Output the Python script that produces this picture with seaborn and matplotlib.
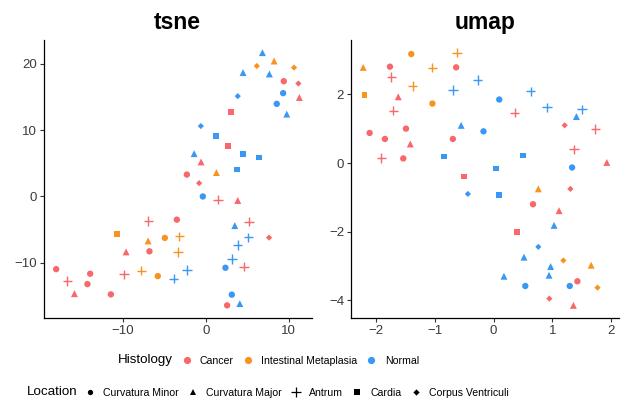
import matplotlib
matplotlib.use("Agg")
import matplotlib.pyplot as plt
from matplotlib.lines import Line2D
import numpy as np
import pandas as pd
import seaborn as sns

# ---- sample annotations -------------------------------------------------
histology_code = [
    "C", "C", "C", "C", "C", "C", "C", "C", "C",
    "C", "C", "C", "C", "C",
    "C", "C", "C", "C", "C", "C",
    "C", "C",
    "C", "C", "C",
    "IM", "IM",
    "IM", "IM", "IM",
    "IM", "IM", "IM",
    "IM",
    "IM", "IM",
    "N", "N", "N", "N", "N",
    "N", "N", "N", "N", "N", "N", "N",
    "N", "N", "N", "N", "N",
    "N", "N", "N", "N",
    "N", "N",
]
location_code = [
    "min", "min", "min", "min", "min", "min", "min", "min", "min",
    "maj", "maj", "maj", "maj", "maj",
    "ant", "ant", "ant", "ant", "ant", "ant",
    "car", "car",
    "cor", "cor", "cor",
    "min", "min",
    "maj", "maj", "maj",
    "ant", "ant", "ant",
    "car",
    "cor", "cor",
    "min", "min", "min", "min", "min",
    "maj", "maj", "maj", "maj", "maj", "maj", "maj",
    "ant", "ant", "ant", "ant", "ant",
    "car", "car", "car", "car",
    "cor", "cor",
]

histology_names = {"C": "Cancer", "IM": "Intestinal Metaplasia", "N": "Normal"}
location_names = {"min": "Curvatura Minor", "maj": "Curvatura Major",
                  "ant": "Antrum", "car": "Cardia", "cor": "Corpus Ventriculi"}

# ---- embeddings ------------------------------------------------------------
tsne_1 = [9.42, -2.29, -3.50, 2.57, -6.81, -18.08, -13.97, -14.30, -11.47,
          11.30, -0.57, 3.86, -9.63, -15.87,
          1.49, 5.23, 4.63, -6.93, -16.71, -9.90,
          3.06, 2.66,
          11.18, -0.81, 7.64,
          -4.95, -5.80,
          8.25, 1.28, -6.97,
          -3.19, -3.38, -7.78,
          -10.75,
          6.16, 10.66,
          9.34, 8.57, -0.36, 2.37, 3.14,
          6.84, 4.50, 7.68, 9.78, -1.41, 3.50, 4.11,
          5.14, 3.86, 3.14, -2.29, -3.89,
          1.24, 4.50, 6.40, 3.78,
          3.86, -0.60]
tsne_2 = [17.35, 3.30, -3.49, -16.39, -8.25, -10.94, -11.63, -13.19, -14.74,
          14.90, 5.20, -0.60, -8.34, -14.63,
          -0.49, -3.79, -10.58, -3.69, -12.74, -11.74,
          12.74, 7.65,
          17.00, 2.01, -6.19,
          -6.24, -11.99,
          20.39, 3.60, -6.69,
          -6.00, -8.34, -11.18,
          -5.70,
          19.64, 19.40,
          15.55, 13.94, 0.00, -10.73, -14.78,
          21.65, 18.65, 18.44, 12.40, 6.45, -4.39, -16.13,
          -6.15, -7.29, -9.39, -11.09, -12.37,
          9.15, 6.40, 5.85, 4.05,
          15.10, 10.60]
umap_1 = [-1.757, -0.634, -2.102, -1.485, -1.842, -0.690, -1.531, 0.670, 1.423,
          -1.616, -1.412, 1.922, 1.112, 1.355,
          -1.735, -1.701, -1.905, 0.357, 1.730, 1.367,
          -0.503, 0.403,
          1.207, 1.304, 0.947,
          -1.395, -1.037,
          -2.211, 0.760, 1.656,
          -0.622, -1.037, -1.371,
          -2.187,
          1.185, 1.764,
          -0.170, 0.097, 1.333, 0.539, 1.293,
          -0.549, 1.406, 1.027, 0.517, 0.969, 0.177, 0.942,
          -0.269, -0.685, 0.629, 0.908, 1.503,
          -0.844, 0.500, 0.046, 0.097,
          -0.435, 0.760]
umap_2 = [2.807, 2.787, 0.877, 1.003, 0.702, 0.702, 0.135, -1.199, -3.442,
          1.930, 0.556, 0.018, -1.386, -4.143,
          2.503, 1.529, 0.146, 1.471, 0.994, 0.398,
          -0.392, -2.000,
          1.099, -0.751, -3.947,
          3.175, 1.734,
          2.787, -0.751, -2.974,
          3.216, 2.778, 2.240,
          1.977,
          -2.836, -3.626,
          0.924, 1.851, -0.129, -3.579, -3.579,
          1.099, 1.354, -1.813, -2.740, -3.012, -3.295, -3.266,
          2.415, 2.123, 2.085, 1.626, 1.567,
          0.193, 0.222, -0.158, -0.927,
          -0.898, -2.439]

tsne_xticks = [-10, 0, 10]
tsne_yticks = [-10, 0, 10, 20]
umap_xticks = [-2, -1, 0, 1, 2]
umap_yticks = [-4, -2, 0, 2]

# ---- styling -----------------------------------------------------------------
palette = {"Cancer": "#F8686A", "Intestinal Metaplasia": "#F7941F", "Normal": "#3A98F5"}
markers = {"Curvatura Minor": "o", "Curvatura Major": "^", "Antrum": "+",
           "Cardia": "s", "Corpus Ventriculi": "D"}
marker_area = {"Curvatura Minor": 21, "Curvatura Major": 25, "Antrum": 46,
               "Cardia": 17, "Corpus Ventriculi": 10}

sns.set_theme(style="ticks")
plt.rcParams["font.family"] = ["Liberation Sans", "DejaVu Sans"]
plt.rcParams["text.color"] = "black"

df = pd.DataFrame({
    "Histology": [histology_names[c] for c in histology_code],
    "Location": [location_names[c] for c in location_code],
    "tsne_1": tsne_1, "tsne_2": tsne_2,
    "umap_1": umap_1, "umap_2": umap_2,
})

W, H = 644, 403
fig = plt.figure(figsize=(W / 100, H / 100), dpi=100)


def box(x0, y0, x1, y1):
    return [x0 / W, 1 - y1 / H, (x1 - x0) / W, (y1 - y0) / H]


ax_t = fig.add_axes(box(44, 40, 311.5, 318))
ax_u = fig.add_axes(box(351, 40, 619, 318))


def draw_panel(ax, xcol, ycol, title, xticks, yticks):
    for loc_name, mk in markers.items():
        sub = df[df["Location"] == loc_name]
        lw = 1.0 if mk == "+" else 0
        sns.scatterplot(data=sub, x=xcol, y=ycol, hue="Histology", palette=palette,
                        marker=mk, s=marker_area[loc_name], linewidth=lw,
                        edgecolor=None if mk == "+" else "none",
                        legend=False, ax=ax, zorder=3)
    xmin, xmax = df[xcol].min(), df[xcol].max()
    ymin, ymax = df[ycol].min(), df[ycol].max()
    dx, dy = 0.05 * (xmax - xmin), 0.05 * (ymax - ymin)
    ax.set_xlim(xmin - dx, xmax + dx)
    ax.set_ylim(ymin - dy, ymax + dy)
    ax.set_xticks(xticks)
    ax.set_yticks(yticks)
    ax.set_xticklabels([f"{t}".replace("-", "\u2212") for t in xticks])
    ax.set_yticklabels([f"{t}".replace("-", "\u2212") for t in yticks])
    ax.set_xlabel("")
    ax.set_ylabel("")
    ax.set_title(title, fontsize=16.5, fontweight="bold", pad=8, color="black")
    sns.despine(ax=ax)
    for side in ("left", "bottom"):
        ax.spines[side].set_color("black")
        ax.spines[side].set_linewidth(0.9)
    ax.tick_params(length=3, width=0.8, color="#333333", labelsize=9.5,
                   labelcolor="#3A3A3A", pad=2)


draw_panel(ax_t, "tsne_1", "tsne_2", "tsne", tsne_xticks, tsne_yticks)
draw_panel(ax_u, "umap_1", "umap_2", "umap", umap_xticks, umap_yticks)

# ---- legends along the bottom -----------------------------------------------
legend_kw = dict(frameon=False, fontsize=7.6, handlelength=1.0, handletextpad=0.76,
                 columnspacing=0.83, borderpad=0, borderaxespad=0, loc="center left",
                 labelcolor="black")

fig.text(117.7 / W, 1 - 360 / H, "Histology", fontsize=9.6, va="center",
         ha="left", color="black")
hist_handles = [Line2D([], [], ls="", marker="o", markersize=5.2,
                       markerfacecolor=col, markeredgewidth=0)
                for col in palette.values()]
fig.legend(hist_handles, list(palette.keys()), ncol=3,
           bbox_to_anchor=(181.4 / W, 1 - 361 / H), **legend_kw)

fig.text(26.7 / W, 1 - 392 / H, "Location", fontsize=9.6, va="center",
         ha="left", color="black")
legend_ms = {"o": 3.8, "^": 4.6, "+": 7.0, "s": 4.3, "D": 3.2}
loc_handles = [Line2D([], [], ls="", marker=mk, markersize=legend_ms[mk], color="black",
                      markeredgewidth=0.9 if mk == "+" else 0)
               for mk in markers.values()]
fig.legend(loc_handles, list(markers.keys()), ncol=5,
           bbox_to_anchor=(84.7 / W, 1 - 393 / H), **legend_kw)

fig.savefig("out.png", dpi=100)
